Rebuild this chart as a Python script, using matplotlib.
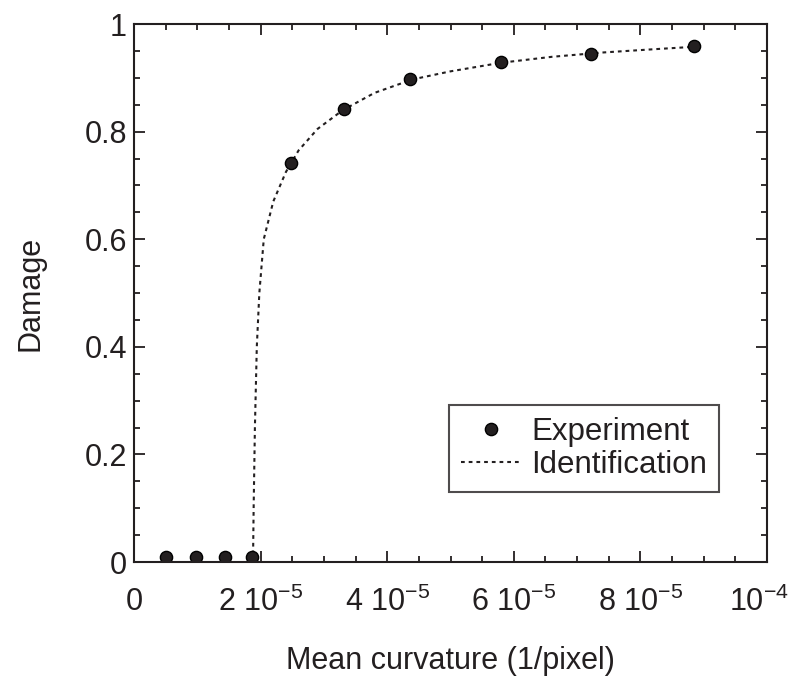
import matplotlib
matplotlib.use("Agg")
import matplotlib.pyplot as plt
from matplotlib.ticker import MultipleLocator, FixedLocator
from matplotlib.transforms import ScaledTranslation

plt.rcParams['font.family'] = ['Liberation Sans', 'DejaVu Sans']
plt.rcParams['mathtext.fontset'] = 'custom'
plt.rcParams['mathtext.rm'] = 'Liberation Sans'
plt.rcParams['mathtext.it'] = 'Liberation Sans'

# Experimental points
exp_x = [5.0e-6, 9.75e-6, 1.43e-5, 1.86e-5, 2.48e-5, 3.32e-5, 4.36e-5, 5.79e-5, 7.22e-5, 8.84e-5]
exp_y = [0.01, 0.01, 0.01, 0.01, 0.741, 0.842, 0.897, 0.929, 0.945, 0.959]

# Identified curve
fit_x = [1.88e-5, 1.89e-5, 1.91e-5, 1.94e-5, 1.98e-5, 2.05e-5, 2.2e-5, 2.4e-5, 2.6e-5,
         2.9e-5, 3.3e-5, 3.8e-5, 4.4e-5, 5.0e-5, 5.8e-5, 6.6e-5, 7.4e-5, 8.2e-5, 8.9e-5]
fit_y = [0.0, 0.1, 0.25, 0.4, 0.5, 0.6, 0.67, 0.725, 0.765,
         0.805, 0.84, 0.872, 0.897, 0.912, 0.928, 0.939, 0.947, 0.953, 0.958]

xticks = [0, 2e-5, 4e-5, 6e-5, 8e-5, 1e-4]
xticklabels = ['0', '2 10$^{-5}$', '4 10$^{-5}$', '6 10$^{-5}$', '8 10$^{-5}$', '10$^{-4}$']
yticks = [0, 0.2, 0.4, 0.6, 0.8, 1]
yticklabels = ['0', '0.2', '0.4', '0.6', '0.8', '1']

ink = '#231f20'
fig = plt.figure(figsize=(7.94, 6.81), dpi=100)
ax = fig.add_axes([134/794, 1-562/681, (767-134)/794, (562-24)/681])

ax.plot(fit_x, fit_y, linestyle=(0, (1.8, 1.9)), color=ink, linewidth=1.5,
        label='Identification')
ax.plot(exp_x, exp_y, 'o', color=ink, markeredgecolor='black',
        markersize=8.8, linestyle='none', label='Experiment')

ax.set_xlim(0, 1e-4)
ax.set_ylim(0, 1)
ax.xaxis.set_major_locator(FixedLocator(xticks))
ax.set_xticklabels(xticklabels)
ax.xaxis.set_minor_locator(MultipleLocator(5e-6))
ax.yaxis.set_major_locator(FixedLocator(yticks))
ax.set_yticklabels(yticklabels)
ax.yaxis.set_minor_locator(MultipleLocator(0.05))

ax.tick_params(which='both', direction='in', top=True, right=True, labelsize=22,
               width=1.3, color=ink, labelcolor=ink)
ax.tick_params(which='major', length=8)
ax.tick_params(which='minor', length=4)
ax.tick_params(axis='x', which='major', pad=18)
ax.tick_params(axis='y', which='major', pad=5)
for s in ax.spines.values():
    s.set_linewidth(1.5)
    s.set_color(ink)

# nudge the last x tick label left a little so it stays inside the figure
lab = ax.xaxis.get_major_ticks()[-1].label1
lab.set_transform(lab.get_transform() + ScaledTranslation(-8/100, 0, fig.dpi_scale_trans))

ax.set_xlabel('Mean curvature (1/pixel)', fontsize=22, color=ink, labelpad=20)
ax.set_ylabel('Damage', fontsize=22, color=ink, labelpad=28)

handles, labels = ax.get_legend_handles_labels()
leg = ax.legend([handles[1], handles[0]], [labels[1], labels[0]],
                loc='lower right', bbox_to_anchor=(0.924, 0.130), borderaxespad=0,
                fontsize=22.5, frameon=True, fancybox=False, edgecolor=ink,
                handlelength=1.95, handletextpad=0.3, borderpad=0.38,
                labelspacing=0.1)
leg.get_frame().set_linewidth(1.5)
for t in leg.get_texts():
    t.set_color(ink)

fig.savefig('out.png', dpi=100)
